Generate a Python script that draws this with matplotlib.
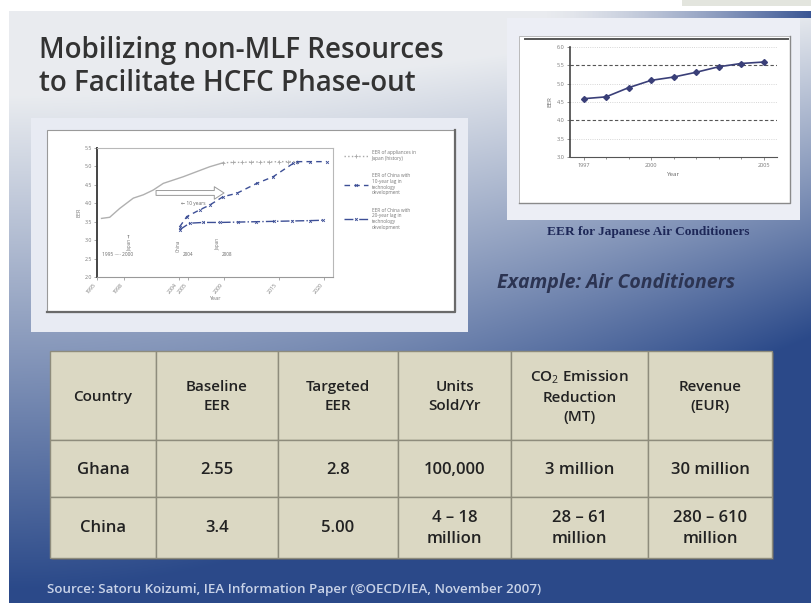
import numpy as np
import matplotlib
matplotlib.use("Agg")
import matplotlib.pyplot as plt
from matplotlib.patches import Rectangle

plt.rcParams['font.family'] = ['Open Sans', 'DejaVu Sans']
plt.rcParams['mathtext.fontset'] = 'custom'
plt.rcParams['mathtext.rm'] = 'Open Sans'

W, H = 811, 603

# Slide text
title_lines = "Mobilizing non-MLF Resources\nto Facilitate HCFC Phase-out"
example_text = "Example: Air Conditioners"
caption_text = "EER for Japanese Air Conditioners"
source_text = "Source: Satoru Koizumi, IEA Information Paper (\u00a9OECD/IEA, November 2007)"

# Table
col_labels = ["Country", "Baseline\nEER", "Targeted\nEER", "Units\nSold/Yr",
              "CO$_2$ Emission\nReduction\n(MT)", "Revenue\n(EUR)"]
row_ghana = ["Ghana", "2.55", "2.8", "100,000", "3 million", "30 million"]
row_china = ["China", "3.4", "5.00", "4 \u2013 18\nmillion", "28 \u2013 61\nmillion",
             "280 \u2013 610\nmillion"]

# Left inset chart (EER scenarios)
jp_hist_year = [1995.5, 1996.4, 1997.5, 1999.0, 2000.1, 2001.2, 2002.3, 2003.4,
                2004.5, 2006.0, 2007.4, 2008.9]
jp_hist_eer = [3.59, 3.62, 3.86, 4.14, 4.23, 4.36, 4.54, 4.63, 4.72, 4.86, 4.99, 5.10]
jp_proj_year = [2008.9, 2010, 2011, 2012, 2013, 2014, 2015, 2016, 2017.0]
jp_proj_eer = [5.10, 5.11, 5.11, 5.12, 5.12, 5.12, 5.13, 5.13, 5.13]
cn10_year = [2004.1, 2004.9, 2006.3, 2007.4, 2008.9, 2010.4, 2012.6, 2014.4,
             2016.6, 2017.0, 2018.5, 2020.3]
cn10_eer = [3.36, 3.64, 3.82, 3.95, 4.18, 4.27, 4.54, 4.72, 5.08, 5.13, 5.13, 5.13]
cn20_year = [2004.1, 2005.2, 2006.7, 2008.5, 2010.5, 2012.5, 2014.5, 2016.5, 2018.5, 2019.9]
cn20_eer = [3.28, 3.46, 3.48, 3.48, 3.49, 3.50, 3.51, 3.52, 3.53, 3.54]
left_xticks = [1995, 1998, 2004, 2005, 2009, 2015, 2020]
left_yticks = [2.0, 2.5, 3.0, 3.5, 4.0, 4.5, 5.0, 5.5]
legend_labels = ["EER of appliances in\nJapan (history)",
                 "EER of China with\n10-year lag in\ntechnology\ndevelopment",
                 "EER of China with\n20-year lag in\ntechnology\ndevelopment"]

# Right inset chart (Japanese EER)
jp_years = [1997, 1998, 1999, 2000, 2001, 2002, 2003, 2004, 2005]
jp_eer = [4.59, 4.64, 4.89, 5.09, 5.18, 5.31, 5.46, 5.55, 5.59]
right_yticks = [3.0, 3.5, 4.0, 4.5, 5.0, 5.5, 6.0]


def box(x0, y0, x1, y1):
    return [x0 / W, 1 - y1 / H, (x1 - x0) / W, (y1 - y0) / H]


fig = plt.figure(figsize=(W / 100, H / 100), dpi=100)
lay = fig.add_axes([0, 0, 1, 1])
lay.set_xlim(0, W)
lay.set_ylim(H, 0)
lay.axis("off")

# background gradient
light = np.array([0.915, 0.925, 0.94])
dark = np.array([0.17, 0.29, 0.54])
xx, yy = np.meshgrid(np.linspace(0, 1, W), np.linspace(0, 1, H))
t = np.clip(1.2 * yy - 0.17 + 0.6 * xx ** 2 * (0.3 + yy), 0, 1)
grad = light * (1 - t[..., None]) + dark * t[..., None]
lay.imshow(grad, extent=[9, W, H, 11], aspect="auto", zorder=0)
lay.add_patch(Rectangle((682, 0), 129, 6, fc="#e3e5de", ec="none", zorder=1))

# dark band along the top right
band = np.zeros((1, 256, 4))
band[..., :3] = [0.22, 0.33, 0.58]
band[..., 3] = np.linspace(0, 1, 256) ** 1.5
lay.imshow(band, extent=[540, W, 18, 11], aspect="auto", zorder=1)

# title and labels
lay.text(39, 67, title_lines, fontsize=20, color="#333333", va="center", weight="semibold",
         ha="left", linespacing=1.2, zorder=3)
lay.text(497, 283, example_text, fontsize=14, color="#2c3452", weight="bold",
         style="italic", va="center", zorder=3)
lay.text(47, 590, source_text, fontsize=9.6, color="#c9d3e8", va="center",
         weight="semibold", zorder=3)

# inset panels
lay.add_patch(Rectangle((31, 118), 437, 214, fc="#e8ebf3", ec="none", zorder=2))
lay.add_patch(Rectangle((47, 130), 408, 182, fc="white", ec="#9a9a9a", lw=0.8, zorder=2))
lay.plot([47, 455, 455], [312, 312, 130], color="#6a6a6a", lw=1.6, zorder=2)
lay.add_patch(Rectangle((507, 18), 293, 202, fc="#eceef5", ec="none", zorder=2))
lay.add_patch(Rectangle((519, 36), 271, 167, fc="white", ec="#b0b0b0", lw=0.6, zorder=2))
lay.plot([525, 788], [39, 39], color="#555555", lw=1.4, zorder=2)
lay.plot([519, 790, 790], [203, 203, 36], color="#8a8a8a", lw=1.0, zorder=2)
lay.text(648, 232, caption_text, fontsize=9.6, family="Liberation Serif",
         weight="bold", color="#1e2858", ha="center", va="center", zorder=3)

# table
col_edges = [50, 156, 278, 398, 511, 648, 772]
row_edges = [351, 440, 497, 558]
rows = [col_labels, row_ghana, row_china]
lay.add_patch(Rectangle((52, 353), 722, 207, fc="#5a5e66", ec="none", alpha=0.6, zorder=2))
for r, cells in enumerate(rows):
    for c, txt in enumerate(cells):
        x0, x1 = col_edges[c], col_edges[c + 1]
        y0, y1 = row_edges[r], row_edges[r + 1]
        lay.add_patch(Rectangle((x0, y0), x1 - x0, y1 - y0, fc="#dbd8c3",
                                ec="#8e8c7c", lw=1.0, zorder=3))
        lay.text((x0 + x1) / 2, (y0 + y1) / 2 + 1, txt,
                 fontsize=11 if r == 0 else 12, color="#222222", ha="center",
                 va="center", linespacing=1.45, weight="semibold", zorder=4)

# left inset chart
ax1 = fig.add_axes(box(97, 148, 333, 277))
ax1.set_xlim(1995, 2021)
ax1.set_ylim(2.0, 5.5)
ax1.plot(jp_hist_year, jp_hist_eer, color="#b0b0b0", lw=1.0)
ax1.plot(jp_proj_year, jp_proj_eer, color="#a8a8a8", lw=1.0, ls=":", marker="+",
         ms=2.5, mew=0.6, label=legend_labels[0])
ax1.plot(cn10_year, cn10_eer, color="#3d4f96", lw=1.0, ls=(0, (4, 3)), marker="x",
         ms=2, mew=0.6, label=legend_labels[1])
ax1.plot(cn20_year, cn20_eer, color="#3d4f96", lw=1.0, ls="-.", marker="x",
         ms=2, mew=0.6, label=legend_labels[2])
ax1.annotate("", xy=(2009.3, 4.28), xytext=(2001.2, 4.28),
             arrowprops=dict(arrowstyle="simple,head_width=0.9,head_length=0.7,tail_width=0.35",
                             fc="white", ec="#9a9a9a", lw=0.7))
ax1.text(2004.3, 3.95, "\u2190 10 years", fontsize=3.5, color="#666")
ax1.text(1995.5, 2.62, "1995 \u00b7\u00b7\u00b7\u00b7\u00b7 2000", fontsize=3.5, color="#666", va="center")
ax1.text(1998.6, 2.95, "Japan \u2192", fontsize=3.3, color="#777", rotation=90, ha="center", va="center")
ax1.text(2004.0, 2.85, "China", fontsize=3.3, color="#777", rotation=90, ha="center", va="center")
ax1.text(2004.4, 2.62, "2004", fontsize=3.3, color="#666", va="center")
ax1.text(2008.3, 2.9, "Japan", fontsize=3.3, color="#777", rotation=90, ha="center", va="center")
ax1.text(2008.8, 2.62, "2008", fontsize=3.3, color="#666", va="center")
ax1.set_xticks(left_xticks)
ax1.set_xticklabels([str(v) for v in left_xticks], rotation=50, ha="right")
ax1.set_yticks(left_yticks)
ax1.set_yticklabels(["%.1f" % v for v in left_yticks])
ax1.tick_params(labelsize=3.8, labelcolor="#777", length=2, width=0.5, color="#888", pad=1.5)
ax1.set_xlabel("Year", fontsize=4, color="#777", labelpad=1)
ax1.set_ylabel("EER", fontsize=4, color="#777", labelpad=2)
for s in ["top", "right"]:
    ax1.spines[s].set_color("#b8b8b8")
    ax1.spines[s].set_linewidth(0.8)
ax1.spines["bottom"].set_color("#999")
ax1.spines["left"].set_color("#444")
ax1.spines["left"].set_linewidth(1.4)
ax1.legend(loc="upper left", bbox_to_anchor=(1.04, 1.0), frameon=False, fontsize=3.4,
           labelcolor="#777", handlelength=5, labelspacing=2.6, borderaxespad=0)

# right inset chart
ax2 = fig.add_axes(box(570, 47, 777, 157))
ax2.set_xlim(1996.4, 2005.6)
ax2.set_ylim(3.0, 6.0)
for v in right_yticks:
    if v in (4.0, 5.5):
        ax2.axhline(v, color="#555", lw=0.8, ls=(0, (3, 2)), zorder=1)
    else:
        ax2.axhline(v, color="#c8c8c8", lw=0.6, ls=":", zorder=1)
ax2.plot(jp_years, jp_eer, color="#3a3f78", lw=1.2, marker="D", ms=3, zorder=3)
ax2.set_xticks([1997, 2000, 2005])
ax2.set_xticks(jp_years, minor=True)
ax2.set_yticks(right_yticks)
ax2.set_yticklabels(["%.1f" % v for v in right_yticks])
ax2.tick_params(labelsize=4, labelcolor="#777", length=2, width=0.5, color="#666", pad=2)
ax2.tick_params(which="minor", length=1.5, width=0.5, color="#666")
ax2.set_xlabel("Year", fontsize=4.5, color="#666", labelpad=3)
ax2.set_ylabel("EER", fontsize=4.5, color="#666", labelpad=3)
for s in ["top", "right"]:
    ax2.spines[s].set_visible(False)
ax2.spines["left"].set_color("#444")
ax2.spines["bottom"].set_color("#555")
ax2.spines["left"].set_linewidth(1.2)

fig.savefig("out.png", dpi=100)
